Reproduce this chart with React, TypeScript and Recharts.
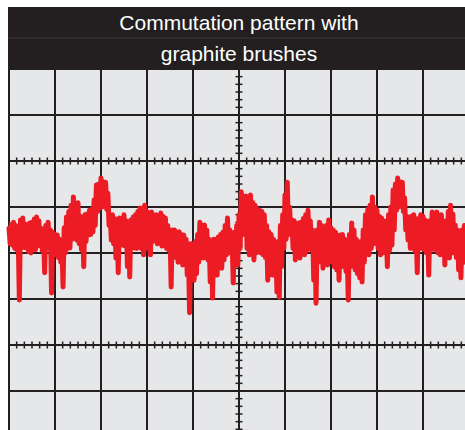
import React from 'react';
import { LineChart, Line, XAxis, YAxis, CartesianGrid, ReferenceLine } from 'recharts';

const TITLE_LINES = ['Commutation pattern with', 'graphite brushes'];
const X_DIVISIONS = [0, 1, 2, 3, 4, 5, 6, 7, 8, 9, 10];
const Y_DIVISIONS = [-4, -3, -2, -1, 0, 1, 2, 3, 4];
const CROSSHAIR_Y = [2, -2];
const CROSSHAIR_X = 5;
const MINOR_PER_DIV = 6;
const SAMPLE_STEP = 0.025;

// Trace samples in divisions (one sample every 1/40 division)
const SIGNAL = [
  0.54, 0.2, 0.62, 0.17, 0.67, 0.1, 0.6, 0.07, 0.35, -1.02,
  0.72, 0.25, 0.76, 0.12, 0.63, 0.11, 0.61, 0.03, 0.65, 0,
  0.67, 0.08, 0.74, 0.07, 0.78, 0.15, 0.7, 0.17, 0.54, 0.05,
  0.45, -0.43, 0.6, 0.2, 0.67, 0.1, 0.5, -0.87, 0.45, 0.05,
  0.4, -0.04, 0.39, -0.1, 0.3, -0.2, 0.2, -0.74, 0.55, 0.0,
  0.78, 0.1, 0.9, 0.11, 1.04, 0.3, 1.22, 0.35, 1.0, 0.28,
  1.09, 0.2, 0.8, 0.07, 0.6, -0.3, 0.83, 0.25, 0.85, 0.39,
  0.93, 0.4, 0.95, 0.46, 1.15, 0.6, 1.48, 0.9, 1.5, 0.98,
  1.63, 1.0, 1.55, 1.04, 1.54, 0.95, 1.3, 0.6, 0.8, 0.28,
  0.83, 0.2, 0.75, -0.11, 0.6, -0.43, 0.76, 0.2, 0.75, 0.17,
  0.83, 0.15, 0.7, -0.3, 0.6, -0.52, 0.72, 0.15, 0.78, 0.11,
  0.83, 0.1, 0.9, 0.17, 0.98, 0.1, 0.85, -0.04, 1.04, 0.1,
  0.9, 0.11, 0.7, -0.04, 0.89, 0.25, 0.8, 0.33, 0.83, 0.2,
  0.8, 0.24, 0.87, 0.15, 0.8, 0.17, 0.76, 0.1, 0.6, 0.07,
  0.45, -0.74, 0.5, 0.0, 0.5, -0.1, 0.45, -0.2, 0.46, -0.15,
  0.4, -0.26, 0.39, -0.2, 0.3, -0.48, 0.1, -1.3, 0.2, -0.4,
  0.2, -0.59, 0.25, -0.45, 0.4, -0.2, 0.67, 0.0, 0.6, -0.11,
  0.61, -0.05, 0.5, -0.15, 0.3, -0.63, 0.2, -0.98, 0.3, -0.3,
  0.3, -0.48, 0.35, -0.3, 0.4, -0.33, 0.45, -0.15, 0.6, -0.04,
  0.76, 0.0, 0.5, 0.07, 0.3, -0.65, 0.45, -0.2, 0.6, -0.26,
  0.83, 0.1, 1.33, 0.4, 1.2, 0.5, 1.24, 0.1, 1.1, -0.04,
  1.26, 0.0, 1.1, -0.15, 1.04, 0.0, 0.95, 0.07, 0.93, 0.0,
  0.9, -0.04, 0.83, -0.1, 0.6, -0.59, 0.46, -0.2, 0.4, -0.48,
  0.3, -0.4, 0.2, -0.85, 0.25, -0.96, 0.6, -0.3, 0.83, 0.1,
  1.26, 0.3, 1.54, 0.4, 1.0, 0.5, 0.72, 0.1, 0.7, -0.15,
  0.61, -0.05, 0.65, -0.11, 0.67, 0.0, 0.75, -0.04, 0.83, 0.05,
  0.93, 0.1, 0.7, 0.07, 0.5, -0.59, 0.3, -1.09, 0.5, -0.2,
  0.67, -0.1, 0.6, -0.33, 0.54, -0.2, 0.6, -0.26, 0.72, -0.1,
  0.55, -0.2, 0.5, -0.3, 0.45, -0.37, 0.3, -0.59, 0.39, -0.3,
  0.4, -0.26, 0.3, -0.4, 0.15, -1.02, 0.4, -0.3, 0.65, -0.2,
  0.5, -0.37, 0.3, -0.45, 0.2, -0.54, 0.25, -0.63, 0.5, -0.2,
  0.83, 0.0, 0.95, -0.04, 1.04, 0.1, 1.22, 0.2, 1.0, 0.28,
  0.93, 0.1, 0.8, -0.04, 0.76, 0.0, 0.7, 0.07, 0.6, -0.3,
  0.83, 0.05, 1.0, 0.17, 1.37, 0.5, 1.5, 0.93, 1.63, 1.0,
  1.55, 1.04, 1.54, 0.9, 1.2, 0.5, 0.8, 0.28, 0.76, 0.1,
  0.8, 0.11, 0.83, 0.05, 0.6, -0.43, 0.75, 0.17, 0.83, 0.1,
  0.8, 0.07, 0.72, 0.0, 0.55, -0.48, 0.7, 0.05, 0.89, 0.15,
  0.85, 0.07, 0.89, 0.0, 0.8, -0.04, 0.83, 0.0, 0.7, -0.26,
  0.67, -0.05, 0.9, -0.11, 1.04, 0.0, 0.85, 0.07, 0.61, -0.1,
  0.5, -0.37, 0.4, -0.54, 0.5, -0.2, 0.6, -0.15, 0.54, -0.1,
];

const data = SIGNAL.map((v, i) => ({ t: Number((i * SAMPLE_STEP).toFixed(3)), v }));

const INK = '#231f20';
const TRACE = '#ed1c24';
const SCREEN = '#e6e7e8';

const HorizontalCross = (p: any) => {
  const { x1, y1, x2, y2 } = p;
  const n = (X_DIVISIONS.length - 1) * MINOR_PER_DIV;
  const step = (x2 - x1) / n;
  const marks = [];
  for (let k = 1; k < n; k++) {
    const x = x1 + k * step;
    marks.push(<line key={k} x1={x} x2={x} y1={y1 - 3.5} y2={y1 + 3.5} />);
  }
  return (
    <g stroke={INK} strokeWidth={1.5}>
      <line x1={x1} y1={y1} x2={x2} y2={y2} strokeWidth={2} />
      {marks}
    </g>
  );
};

const VerticalCross = (p: any) => {
  const { x1, y1, x2, y2 } = p;
  const n = (Y_DIVISIONS.length - 1) * MINOR_PER_DIV;
  const step = (y2 - y1) / n;
  const marks = [];
  for (let k = 1; k < n; k++) {
    const y = y1 + k * step;
    marks.push(<line key={k} x1={x1 - 3.5} x2={x1 + 3.5} y1={y} y2={y} />);
  }
  return (
    <g stroke={INK} strokeWidth={1.5}>
      <line x1={x1} y1={y1} x2={x2} y2={y2} strokeWidth={2} />
      {marks}
    </g>
  );
};

export default function App() {
  return (
    <div style={{ position: 'fixed', left: 0, top: 0, width: 465, height: 430, overflow: 'hidden', background: '#fff' }}>
      <div style={{ position: 'absolute', left: 0, top: 0 }}>
        <LineChart width={472} height={440} data={data} margin={{ top: 69, left: 9, right: 3, bottom: 3 }}>
          <XAxis dataKey="t" type="number" domain={[0, 10]} ticks={X_DIVISIONS} hide />
          <YAxis type="number" domain={[-4, 4]} ticks={Y_DIVISIONS} hide />
          <CartesianGrid stroke={INK} strokeWidth={2} fill={SCREEN} fillOpacity={1} />
          {CROSSHAIR_Y.map((y) => (
            <ReferenceLine key={y} y={y} shape={HorizontalCross} />
          ))}
          <ReferenceLine x={CROSSHAIR_X} shape={VerticalCross} />
          <Line
            dataKey="v"
            type="linear"
            stroke={TRACE}
            strokeWidth={5}
            strokeLinejoin="round"
            strokeLinecap="round"
            dot={false}
            activeDot={false}
            isAnimationActive={false}
          />
        </LineChart>
      </div>
      <svg width={465} height={70} style={{ position: 'absolute', left: 0, top: 0 }}>
        <rect x={8} y={7} width={457} height={62} fill={INK} />
        <line x1={8} x2={465} y1={38} y2={38} stroke="#3a3637" strokeWidth={1} />
        {TITLE_LINES.map((t, i) => (
          <text
            key={t}
            x={239}
            y={30 + i * 31}
            textAnchor="middle"
            fill="#ffffff"
            fontFamily="'Liberation Sans', Arial, Helvetica, sans-serif"
            fontSize={21}
          >
            {t}
          </text>
        ))}
      </svg>
    </div>
  );
}
